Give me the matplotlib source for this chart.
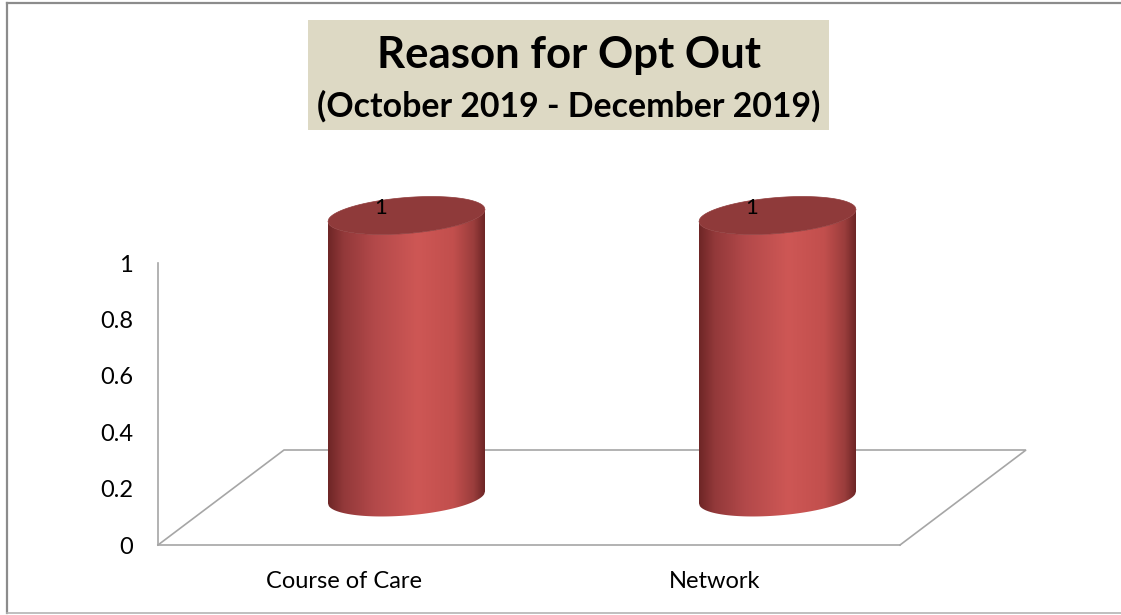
"""Reason for Opt Out, Oct-Dec 2019: Excel-style 3-D cylinder column chart."""

import matplotlib.pyplot as plt
import numpy as np
from matplotlib.colors import LinearSegmentedColormap
from matplotlib.lines import Line2D
from matplotlib.patches import Polygon, Rectangle

plt.rcParams["font.family"] = ["Lato", "DejaVu Sans"]

categories = ["Course of Care", "Network"]
counts = [1, 1]
y_ticks = [0, 0.2, 0.4, 0.6, 0.8, 1]
y_tick_labels = ["0", "0.2", "0.4", "0.6", "0.8", "1"]
title = "Reason for Opt Out"
subtitle = "(October 2019 - December 2019)"

W, H = 1121, 615
GRAY = "#A6A6A6"

fig = plt.figure(figsize=(W / 100, H / 100), dpi=100)

# front plane of the plot area in pixels (left, right, value 0, value 1)
left, right, base, top = 158, 900, 545, 263
ax = fig.add_axes([left / W, 1 - base / H, (right - left) / W, (base - top) / H])

# oblique depth vector of the floor, in data units
n = len(categories)
depth_x = 126 / (right - left) * n
depth_y = 95 / (base - top)

# floor outline (front edge is the bottom spine)
ax.plot([0, depth_x, n + depth_x, n], [0, depth_y, depth_y, 0],
        color=GRAY, lw=1.2, clip_on=False, solid_joinstyle="miter")

side_cmap = LinearSegmentedColormap.from_list("cyl", [
    (0.00, "#6E2626"),
    (0.10, "#93393A"),
    (0.30, "#B3494A"),
    (0.57, "#CE5755"),
    (0.80, "#C24F4D"),
    (0.93, "#9A3D3C"),
    (1.00, "#6E2626"),
])
gradient = side_cmap(np.linspace(0, 1, 256))[None, :, :]

rad_x = 78.5 / (right - left) * n   # horizontal radius
rad_y = 18 / (base - top)           # vertical radius of the caps
tilt = 6 / (base - top)             # right side of caps sits a little higher
u = np.linspace(-1, 1, 181)


def cap(cx, cy, sign):
    return cy + tilt * u + sign * rad_y * np.sqrt(1 - u ** 2)


for i, v in enumerate(counts):
    cx = i + 0.5 + 0.5 * depth_x
    y0 = 0.5 * depth_y
    y1 = v + 0.5 * depth_y
    xs = cx + rad_x * u
    bot = cap(cx, y0, -1)
    top_front = cap(cx, y1, -1)
    top_back = cap(cx, y1, 1)

    side = Polygon(np.r_[np.c_[xs, bot], np.c_[xs[::-1], top_front[::-1]]],
                   closed=True, transform=ax.transData)
    im = ax.imshow(gradient, extent=(cx - rad_x, cx + rad_x,
                                     y0 - rad_y - tilt, y1 + rad_y + tilt),
                   aspect="auto", interpolation="bilinear", zorder=2)
    im.set_clip_path(side)
    im.set_clip_box(fig.bbox)

    ring = np.r_[np.c_[xs, top_front], np.c_[xs[::-1], top_back[::-1]]]
    ax.add_patch(Polygon(ring, closed=True, fc="#8F3A3A", ec="#8F3A3A",
                         lw=0.5, clip_on=False, zorder=3))
    ax.annotate(str(v), (cx, y1), xytext=(-26, 8), textcoords="offset pixels",
                ha="center", va="center", fontsize=16, annotation_clip=False,
                zorder=4)

ax.set_xlim(0, n)
ax.set_ylim(0, 1)
ax.set_yticks(y_ticks, y_tick_labels)
ax.set_xticks([i + 0.5 for i in range(n)], categories)
ax.tick_params(axis="y", length=0, pad=18, labelsize=17)
ax.tick_params(axis="x", length=0, pad=19, labelsize=17)
for side_name in ("top", "right"):
    ax.spines[side_name].set_visible(False)
for side_name in ("left", "bottom"):
    ax.spines[side_name].set_color(GRAY)
    ax.spines[side_name].set_linewidth(1.2)
ax.set_facecolor("none")

# title block
fig.patches.append(Rectangle((308 / W, 1 - 130 / H), 521 / W, 110 / H,
                             transform=fig.transFigure, fc="#DDD9C4", ec="none"))
fig.text(569 / W, 1 - 55 / H, title, ha="center", va="center",
         fontsize=31.5, fontweight="bold")
fig.text(569 / W, 1 - 106 / H, subtitle, ha="center", va="center",
         fontsize=24.4, fontweight="bold")

# chart border
fig.lines.append(Line2D([7 / W, 7 / W], [1 - 613 / H, 1 - 3 / H],
                        transform=fig.transFigure, color="#8C8C8C", lw=1.6))
fig.lines.append(Line2D([7 / W, 1], [1 - 3 / H, 1 - 3 / H],
                        transform=fig.transFigure, color="#8C8C8C", lw=1.6))
fig.lines.append(Line2D([7 / W, 1], [1 - 613 / H, 1 - 613 / H],
                        transform=fig.transFigure, color="#B4B4B4", lw=1.2))

fig.savefig("out.png", dpi=100)
